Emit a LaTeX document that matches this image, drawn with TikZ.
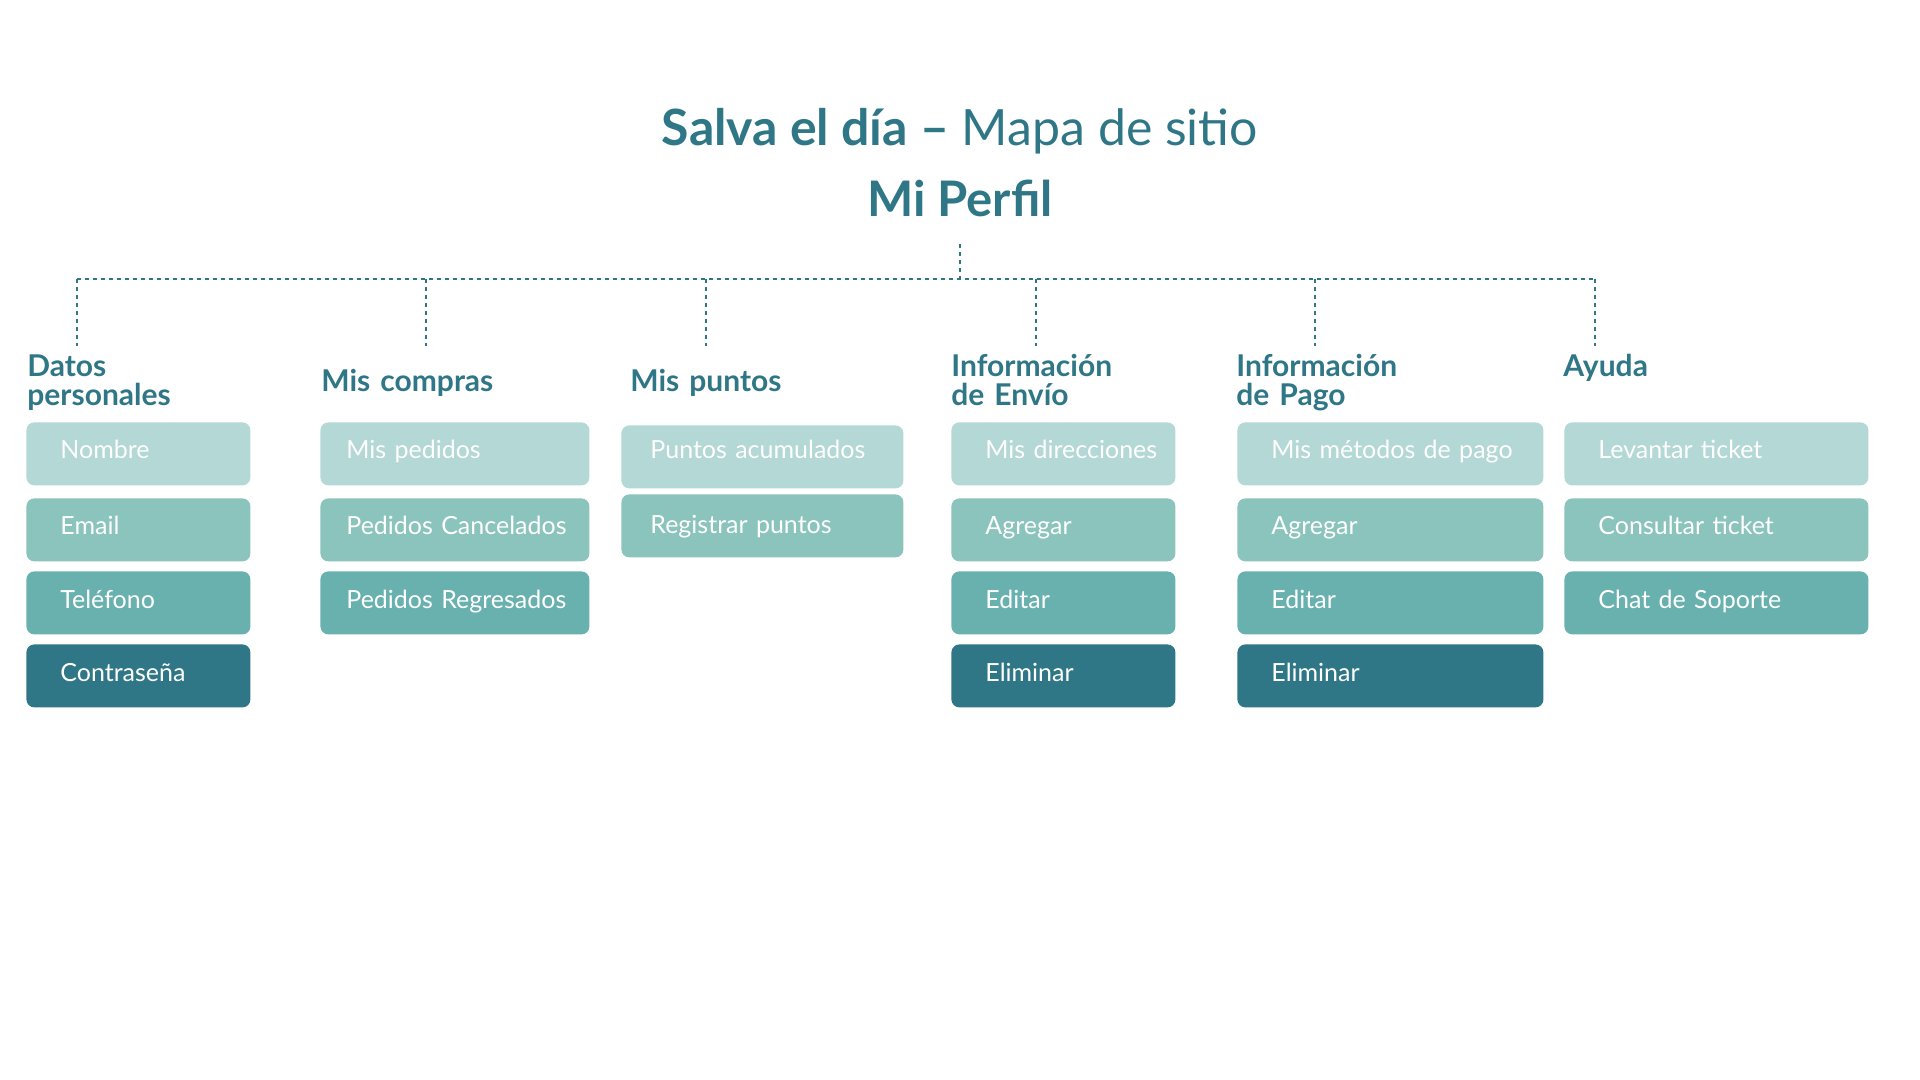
\documentclass[tikz,border=0pt]{standalone}
\usepackage{fontspec}
\setmainfont{Lato}
\usepackage{tikz}
\usetikzlibrary{positioning,calc}

\definecolor{petroleo}{HTML}{2F7786}
\definecolor{tonoA}{HTML}{B3D8D5}
\definecolor{tonoB}{HTML}{8BC4BC}
\definecolor{tonoC}{HTML}{69B1AF}
\definecolor{tonoD}{HTML}{2F7786}

\tikzset{
  sangria/.store in=\sangria, sangria=17pt,
  caja/.style={anchor=north west, rounded corners=4pt, minimum height=31.5pt,
    inner xsep=0pt, inner ysep=0pt, text height=9pt, text depth=4.5pt,
    text width=#1, align=left, text=white, font=\fontsize{12.5}{14}\selectfont,
    execute at begin node={\hspace*{\sangria}}},
  baja/.style={text depth=3pt},
  rubro/.style={anchor=base west, inner sep=0pt, text width=130pt, align=left,
    text=petroleo, font=\bfseries\fontsize{15}{14.5}\selectfont},
  bus/.style={draw=petroleo, line width=1pt, dash pattern=on 2pt off 2pt}
}

\begin{document}
\begin{tikzpicture}[x=0.5pt,y=-0.5pt]
\fill[white] (0,0) rectangle (1920,1080);
%Titel
\node[anchor=base, inner sep=0pt, text=petroleo, font=\fontsize{25}{30}\selectfont] (titulo) at (960,146) {{\bfseries Salva el día –} Mapa de sitio};
\node[anchor=base, inner sep=0pt, text=petroleo, font=\bfseries\fontsize{24.5}{30}\selectfont] (perfil) at (960,217) {Mi Perfil};
\coordinate (raiz) at (960,244);
\coordinate (bus) at (960,279);

%Rubros
\node[rubro] (datos) at (27,376) {Datos\\personales};
\node[rubro] (compras) at (321,391) {Mis compras};
\node[rubro] (puntos) at (630,391) {Mis puntos};
\node[rubro] (envio) at (951,376) {Información\\de Envío};
\node[rubro] (pago) at (1236,376) {Información\\de Pago};
\node[rubro] (ayuda) at (1563,376) {Ayuda};

%Verbindungen
\coordinate (datos-in) at (77,346);
\coordinate (compras-in) at (426,346);
\coordinate (puntos-in) at (706,346);
\coordinate (envio-in) at (1036,346);
\coordinate (pago-in) at (1315,346);
\coordinate (ayuda-in) at (1595,346);
\draw[bus] (raiz) -- (bus);
\draw[bus] (datos-in |- bus) -- (ayuda-in |- bus);
\draw[bus] (datos-in |- bus) -- (datos-in);
\draw[bus] (compras-in |- bus) -- (compras-in);
\draw[bus] (puntos-in |- bus) -- (puntos-in);
\draw[bus] (envio-in |- bus) -- (envio-in);
\draw[bus] (pago-in |- bus) -- (pago-in);
\draw[bus] (ayuda-in |- bus) -- (ayuda-in);

%Datos personales
\node[caja=112pt, fill=tonoA] (datos1) at (26,422) {Nombre};
\node[caja=112pt, fill=tonoB] (datos2) at (26,498) {Email};
\node[caja=112pt, baja, fill=tonoC] (datos3) at (26,571) {Teléfono};
\node[caja=112pt, baja, fill=tonoD] (datos4) at (26,644) {Contraseña};

%Mis compras
\node[caja=134.5pt, sangria=13pt, fill=tonoA] (compras1) at (320,422) {Mis pedidos};
\node[caja=134.5pt, sangria=13pt, fill=tonoB] (compras2) at (320,498) {Pedidos Cancelados};
\node[caja=134.5pt, sangria=13pt, baja, fill=tonoC] (compras3) at (320,571) {Pedidos Regresados};

%Mis puntos
\node[caja=141pt, sangria=14.5pt, text depth=7.5pt, fill=tonoA] (puntos1) at (621,425) {Puntos acumulados};
\node[caja=141pt, sangria=14.5pt, text depth=1.5pt, fill=tonoB] (puntos2) at (621,494) {Registrar puntos};

%Informacion de Envio
\node[caja=112pt, fill=tonoA] (envio1) at (951,422) {Mis direcciones};
\node[caja=112pt, fill=tonoB] (envio2) at (951,498) {Agregar};
\node[caja=112pt, baja, fill=tonoC] (envio3) at (951,571) {Editar};
\node[caja=112pt, baja, fill=tonoD] (envio4) at (951,644) {Eliminar};

%Informacion de Pago
\node[caja=153pt, fill=tonoA] (pago1) at (1237,422) {Mis métodos de pago};
\node[caja=153pt, fill=tonoB] (pago2) at (1237,498) {Agregar};
\node[caja=153pt, baja, fill=tonoC] (pago3) at (1237,571) {Editar};
\node[caja=153pt, baja, fill=tonoD] (pago4) at (1237,644) {Eliminar};

%Ayuda
\node[caja=152pt, fill=tonoA] (ayuda1) at (1564,422) {Levantar ticket};
\node[caja=152pt, fill=tonoB] (ayuda2) at (1564,498) {Consultar ticket};
\node[caja=152pt, baja, fill=tonoC] (ayuda3) at (1564,571) {Chat de Soporte};

\end{tikzpicture}
\end{document}
